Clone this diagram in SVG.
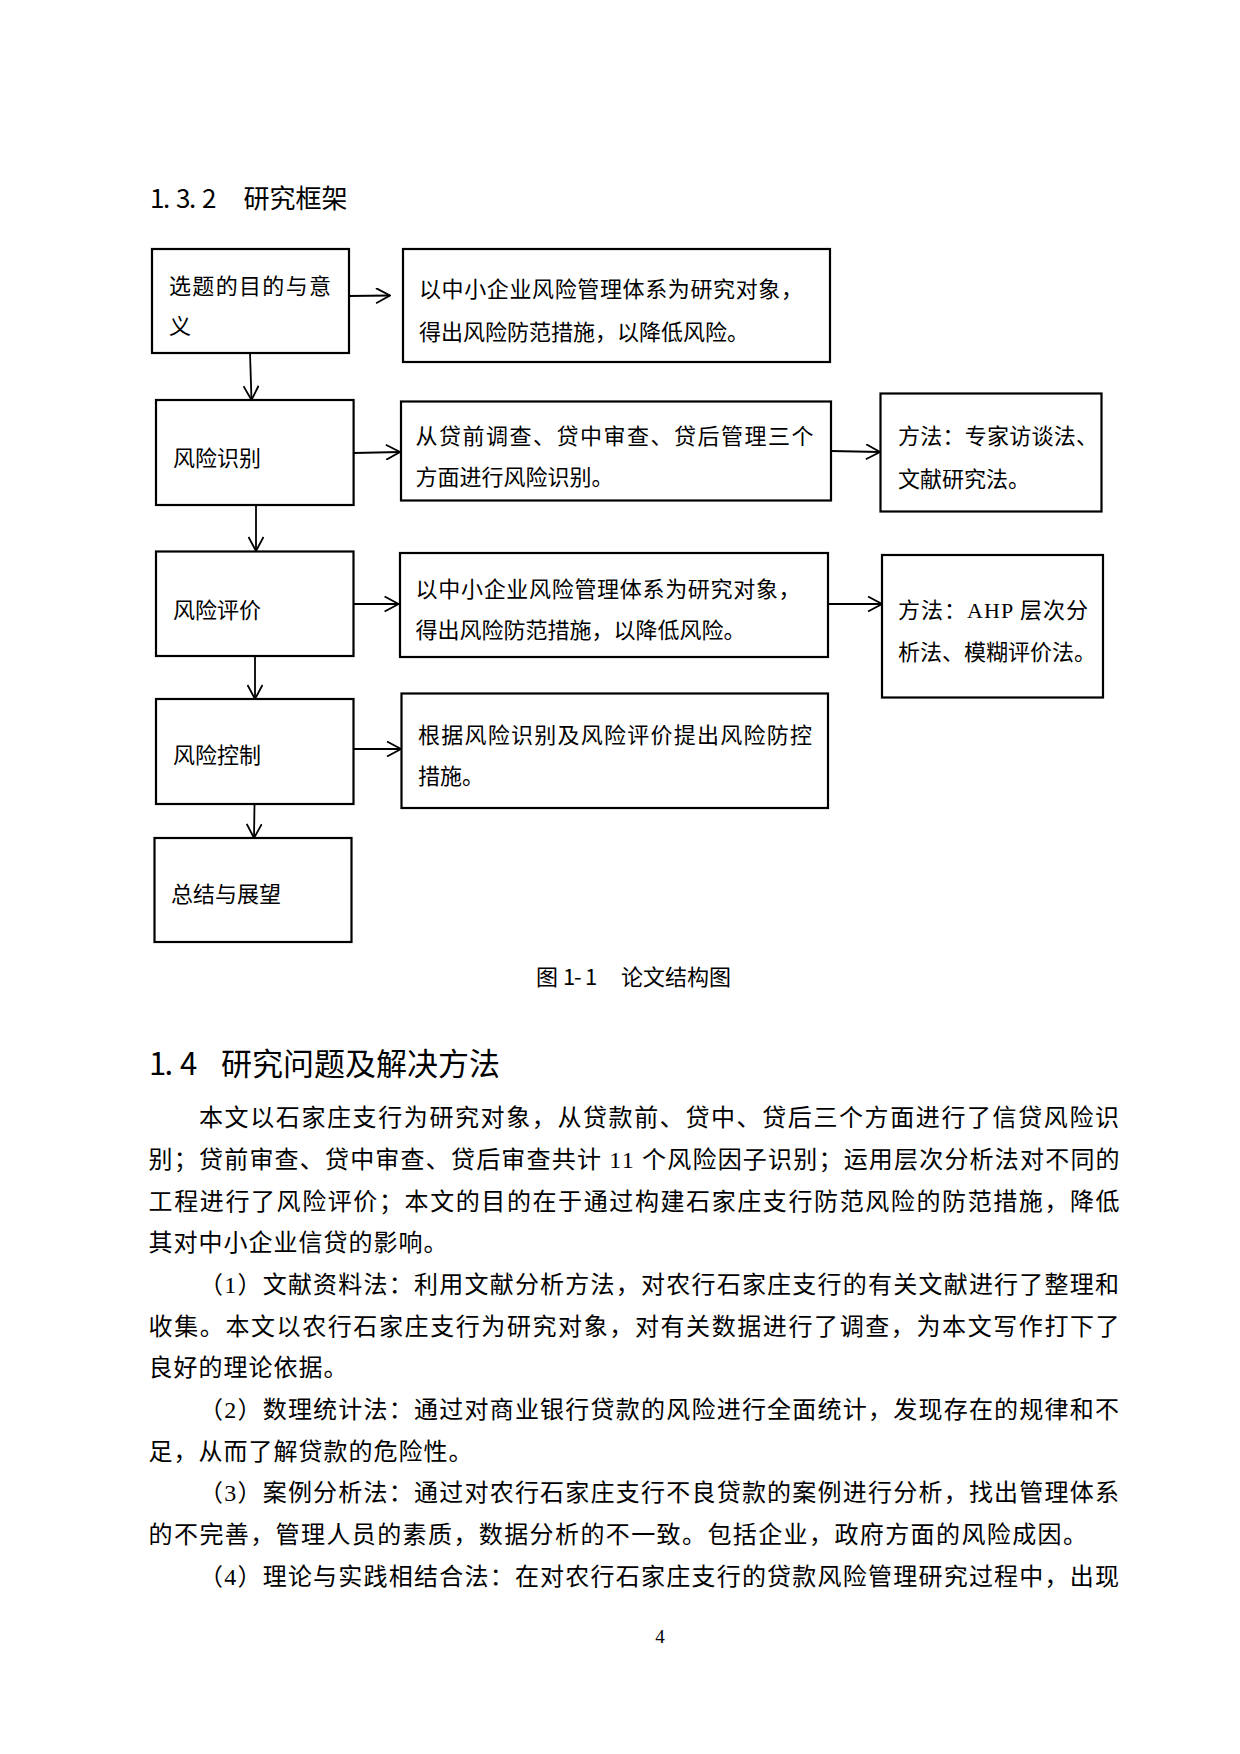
<svg xmlns="http://www.w3.org/2000/svg" width="1240" height="1754" viewBox="0 0 1240 1754">
<style>
.h{font-family:"Noto Sans CJK SC","Liberation Sans",sans-serif;fill:#000}
.t{font-family:"Liberation Serif","Noto Sans CJK SC",serif;font-size:22px;fill:#000}
.b{font-family:"Liberation Serif","Noto Sans CJK SC",serif;font-size:24px;fill:#000}
.box{fill:#fff;stroke:#000;stroke-width:2.2}
.c{stroke:#000;stroke-width:1.8;fill:none}
</style>
<defs>
<marker id="ah" viewBox="0 0 16 16" refX="15" refY="8" markerWidth="16" markerHeight="16" markerUnits="userSpaceOnUse" orient="auto">
<path d="M1,0.5 L15,8 L1,15.5" fill="none" stroke="#000" stroke-width="1.8"/>
</marker>
</defs>
<rect x="0" y="0" width="1240" height="1754" fill="#fff"/>

<text class="h" font-size="26" y="208"><tspan x="150 163 176 189 202">1.3.2</tspan><tspan x="243.5">研究框架</tspan></text>

<g id="connectors">
<line class="c" x1="348.5" y1="296" x2="390" y2="295.5" marker-end="url(#ah)"/>
<line class="c" x1="250" y1="353" x2="251.5" y2="400" marker-end="url(#ah)"/>
<line class="c" x1="353.6" y1="453" x2="400" y2="452" marker-end="url(#ah)"/>
<line class="c" x1="831" y1="451" x2="880" y2="452" marker-end="url(#ah)"/>
<line class="c" x1="256" y1="505" x2="256" y2="551" marker-end="url(#ah)"/>
<line class="c" x1="353.6" y1="604" x2="398.6" y2="604" marker-end="url(#ah)"/>
<line class="c" x1="828.6" y1="604" x2="882" y2="604" marker-end="url(#ah)"/>
<line class="c" x1="255" y1="656" x2="255" y2="699" marker-end="url(#ah)"/>
<line class="c" x1="353.6" y1="749" x2="401" y2="749" marker-end="url(#ah)"/>
<line class="c" x1="254.5" y1="804" x2="254" y2="838" marker-end="url(#ah)"/>
</g>

<g id="n1">
<rect class="box" x="152" y="249" width="197" height="104"/>
<text class="t" x="169" y="294" textLength="162" lengthAdjust="spacing">选题的目的与意</text>
<text class="t" x="169" y="334">义</text>
</g>
<g id="n2">
<rect class="box" x="403" y="249" width="427" height="113"/>
<text class="t" x="419" y="297" textLength="384" lengthAdjust="spacing">以中小企业风险管理体系为研究对象，</text>
<text class="t" x="419" y="340">得出风险防范措施，以降低风险。</text>
</g>
<g id="n3">
<rect class="box" x="156" y="400" width="197.6" height="105"/>
<text class="t" x="173" y="466">风险识别</text>
</g>
<g id="n4">
<rect class="box" x="401" y="401.5" width="430" height="99"/>
<text class="t" x="415.6" y="443.5" textLength="398" lengthAdjust="spacing">从贷前调查、贷中审查、贷后管理三个</text>
<text class="t" x="415.6" y="485">方面进行风险识别。</text>
</g>
<g id="n5">
<rect class="box" x="880.5" y="393.5" width="221" height="118"/>
<text class="t" x="898" y="444" textLength="200" lengthAdjust="spacing">方法：专家访谈法、</text>
<text class="t" x="898" y="487">文献研究法。</text>
</g>
<g id="n6">
<rect class="box" x="156" y="551.5" width="197.5" height="104.5"/>
<text class="t" x="173" y="617.5">风险评价</text>
</g>
<g id="n7">
<rect class="box" x="400" y="553" width="428" height="104"/>
<text class="t" x="415.6" y="596.5" textLength="385" lengthAdjust="spacing">以中小企业风险管理体系为研究对象，</text>
<text class="t" x="415.6" y="638">得出风险防范措施，以降低风险。</text>
</g>
<g id="n8">
<rect class="box" x="882" y="555" width="221" height="142.5"/>
<text class="t" x="898" y="618" textLength="190" lengthAdjust="spacing">方法：AHP 层次分</text>
<text class="t" x="898" y="659.5">析法、模糊评价法。</text>
</g>
<g id="n9">
<rect class="box" x="156" y="699" width="197.5" height="105"/>
<text class="t" x="173" y="763">风险控制</text>
</g>
<g id="n10">
<rect class="box" x="401.5" y="693.5" width="426.5" height="114.5"/>
<text class="t" x="418" y="743" textLength="394" lengthAdjust="spacing">根据风险识别及风险评价提出风险防控</text>
<text class="t" x="418" y="784">措施。</text>
</g>
<g id="n11">
<rect class="box" x="154.5" y="838" width="197" height="104"/>
<text class="t" x="171" y="902">总结与展望</text>
</g>

<text class="h" font-size="22" y="985"><tspan x="536">图</tspan><tspan x="563 574 585">1-1</tspan><tspan x="621">论文结构图</tspan></text>

<text class="h" font-size="31" y="1075"><tspan x="149 164.5 180">1.4</tspan><tspan x="221">研究问题及解决方法</tspan></text>

<text class="b" x="199" y="1126" textLength="920" lengthAdjust="spacing">本文以石家庄支行为研究对象，从贷款前、贷中、贷后三个方面进行了信贷风险识</text>
<text class="b" x="148.6" y="1168" textLength="971" lengthAdjust="spacing">别；贷前审查、贷中审查、贷后审查共计 11 个风险因子识别；运用层次分析法对不同的</text>
<text class="b" x="148.6" y="1210" textLength="971" lengthAdjust="spacing">工程进行了风险评价；本文的目的在于通过构建石家庄支行防范风险的防范措施，降低</text>
<text class="b" x="148.6" y="1251" letter-spacing="1">其对中小企业信贷的影响。</text>
<text class="b" x="199" y="1293" textLength="920" lengthAdjust="spacing">（1）文献资料法：利用文献分析方法，对农行石家庄支行的有关文献进行了整理和</text>
<text class="b" x="148.6" y="1335" textLength="971" lengthAdjust="spacing">收集。本文以农行石家庄支行为研究对象，对有关数据进行了调查，为本文写作打下了</text>
<text class="b" x="148.6" y="1376" letter-spacing="1">良好的理论依据。</text>
<text class="b" x="199" y="1418" textLength="920" lengthAdjust="spacing">（2）数理统计法：通过对商业银行贷款的风险进行全面统计，发现存在的规律和不</text>
<text class="b" x="148.6" y="1460" letter-spacing="1">足，从而了解贷款的危险性。</text>
<text class="b" x="199" y="1501" textLength="920" lengthAdjust="spacing">（3）案例分析法：通过对农行石家庄支行不良贷款的案例进行分析，找出管理体系</text>
<text class="b" x="148.6" y="1543" letter-spacing="1.4">的不完善，管理人员的素质，数据分析的不一致。包括企业，政府方面的风险成因。</text>
<text class="b" x="199" y="1585" textLength="920" lengthAdjust="spacing">（4）理论与实践相结合法：在对农行石家庄支行的贷款风险管理研究过程中，出现</text>

<text x="660" y="1643" font-family="Liberation Serif, serif" font-size="19" text-anchor="middle">4</text>
</svg>
